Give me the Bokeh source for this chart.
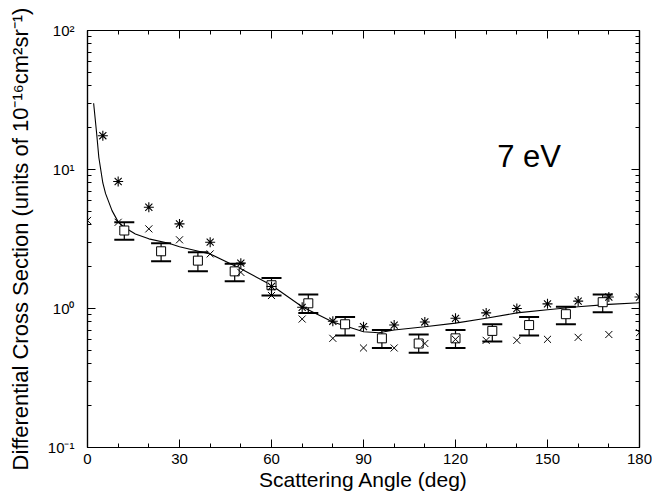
from bokeh.plotting import figure
from bokeh.models import (Range1d, FixedTicker, LinearAxis, LogAxis, Whisker,
                          TeeHead, ColumnDataSource, Label)
from bokeh.embed import file_html
from bokeh.resources import INLINE

# ---- data ----
# theoretical curve (solid line)
curve_angle = [2, 3, 3.7, 5, 5.9, 8, 10, 12, 15.6, 20, 26.5, 30, 40, 50, 60, 70,
               80, 90, 95, 100, 110, 120, 130, 140, 150, 160, 170, 180]
curve_dcs = [30, 18, 12.2, 8.0, 6.7, 5.06, 4.2, 3.84, 3.44, 3.17, 2.95, 2.78, 2.47,
             1.93, 1.47, 1.03, 0.80, 0.68, 0.67, 0.70, 0.74, 0.785, 0.85, 0.93,
             0.98, 1.03, 1.07, 1.10]

# open squares with error bars
sq_angle = [12, 24, 36, 48, 60, 72, 84, 96, 108, 120, 132, 144, 156, 168]
sq_dcs = [3.64, 2.58, 2.21, 1.85, 1.47, 1.09, 0.77, 0.61, 0.56, 0.61, 0.69, 0.76, 0.91, 1.11]
sq_hi = [4.17, 2.95, 2.54, 2.10, 1.66, 1.26, 0.87, 0.70, 0.65, 0.70, 0.77, 0.87, 1.03, 1.26]
sq_lo = [3.12, 2.19, 1.85, 1.57, 1.24, 0.93, 0.64, 0.52, 0.48, 0.52, 0.58, 0.64, 0.77, 0.94]

# asterisks
ast_angle = [5, 10, 20, 30, 40, 50, 60, 70, 80, 90, 100, 110, 120, 130, 140, 150, 160, 170, 180]
ast_dcs = [17.5, 8.2, 5.35, 4.06, 3.0, 2.12, 1.44, 1.02, 0.81, 0.74, 0.76, 0.80, 0.85,
           0.93, 1.0, 1.08, 1.13, 1.21, 1.21]

# crosses
x_angle = [0, 10, 20, 30, 40, 50, 60, 70, 80, 90, 100, 110, 120, 130, 140, 150, 160, 170, 180]
x_dcs = [4.3, 4.17, 3.74, 3.12, 2.47, 1.82, 1.24, 0.84, 0.61, 0.52, 0.52, 0.56, 0.60,
         0.59, 0.59, 0.60, 0.62, 0.65, 0.67]

x_major = [0, 30, 60, 90, 120, 150, 180]
x_minor = list(range(0, 181, 10))
y_major = [0.1, 1, 10, 100]
y_labels = {0.1: "10\u207b\u00b9", 1: "10\u2070", 10: "10\u00b9", 100: "10\u00b2"}
y_minor = [m * d for d in (0.1, 1, 10) for m in range(1, 10)] + [100]

energy_label = "7 eV"
x_title = "Scattering Angle (deg)"
y_title = "Differential Cross Section (units of 10\u207b\u00b9\u2076cm\u00b2sr\u207b\u00b9)"
FONT = "Liberation Sans"

p = figure(width=652, height=493, x_range=Range1d(0, 180), y_range=Range1d(0.1, 100),
           y_axis_type="log", output_backend="svg", toolbar_location=None,
           min_border_left=87, min_border_right=13, min_border_top=30,
           min_border_bottom=46)
p.grid.visible = False
p.outline_line_color = "black"
p.outline_line_width = 1.2
p.background_fill_color = "white"
p.border_fill_color = "white"

xt = FixedTicker(ticks=x_major, minor_ticks=x_minor)
yt = FixedTicker(ticks=y_major, minor_ticks=y_minor)

def style_axis(ax):
    ax.axis_line_color = "black"
    ax.axis_line_width = 1.2
    ax.major_tick_in = 8
    ax.major_tick_out = 0
    ax.minor_tick_in = 4
    ax.minor_tick_out = 0
    ax.major_tick_line_color = "black"
    ax.minor_tick_line_color = "black"
    ax.major_label_text_font = FONT
    ax.major_label_text_color = "black"
    ax.axis_label_text_font = FONT
    ax.axis_label_text_font_style = "normal"
    ax.axis_label_text_color = "black"

xa = p.xaxis[0]
style_axis(xa)
xa.ticker = xt
xa.major_label_text_font_size = "15px"
xa.major_label_standoff = 6
xa.axis_label = x_title
xa.axis_label_text_font_size = "21px"
xa.axis_label_standoff = 1

ya = p.yaxis[0]
style_axis(ya)
ya.ticker = yt
ya.major_label_overrides = y_labels
ya.major_label_text_font_size = "15px"
ya.major_label_standoff = 13
ya.axis_label = y_title
ya.axis_label_text_font_size = "22px"
ya.axis_label_standoff = 12

# frame ticks on top and right (labels not drawn)
top = LinearAxis(ticker=xt)
style_axis(top)
top.major_label_text_color = None
top.major_label_text_font_size = "2px"
top.major_label_standoff = 0
p.add_layout(top, "above")

right = LogAxis(ticker=yt)
style_axis(right)
right.major_label_text_color = None
right.major_label_text_font_size = "2px"
right.major_label_standoff = 0
p.add_layout(right, "right")

# curve
p.line(curve_angle, curve_dcs, line_color="black", line_width=1.1)

# error bars + squares
src = ColumnDataSource(dict(x=sq_angle, y=sq_dcs, hi=sq_hi, lo=sq_lo))
p.add_layout(Whisker(source=src, base="x", upper="hi", lower="lo",
                     line_color="black", line_width=1.2,
                     upper_head=TeeHead(size=20, line_width=2, line_color="black"),
                     lower_head=TeeHead(size=20, line_width=2, line_color="black")))
p.scatter("x", "y", source=src, marker="square", size=9, fill_color="white",
          line_color="black", line_width=1)

p.scatter(ast_angle, ast_dcs, marker="asterisk", size=10, line_color="black", line_width=1.1)
p.scatter(x_angle, x_dcs, marker="x", size=10, line_color="black", line_width=1)

p.add_layout(Label(x=144, y=12.5, text=energy_label, text_font=FONT,
                   text_font_size="31px", text_align="center",
                   text_baseline="middle", text_color="black"))

open("out.html", "w").write(file_html(p, INLINE))
